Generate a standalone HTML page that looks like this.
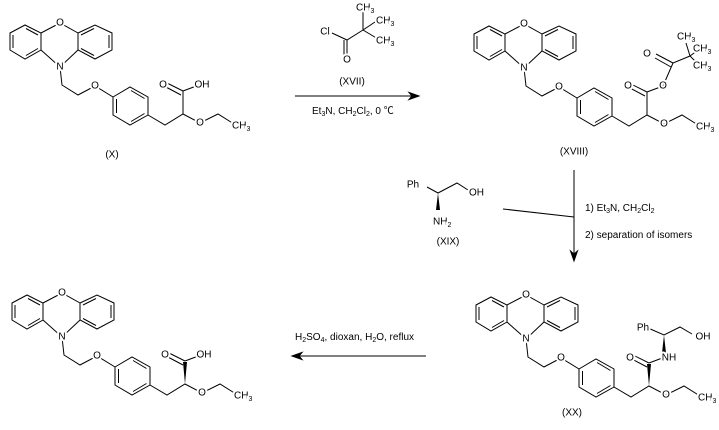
<!DOCTYPE html>
<html><head><meta charset="utf-8"><style>
html,body{margin:0;padding:0;background:#fff;}
svg{display:block;}
text{font-family:"Liberation Sans","Noto Sans CJK SC",sans-serif;font-size:10px;fill:#000;}
.t{paint-order:stroke;stroke:#fff;stroke-width:4px;stroke-linejoin:round;text-anchor:middle;dominant-baseline:central;}
.l{text-anchor:start;}
line,polyline,polygon{stroke:#000;stroke-width:1;fill:none;}
</style></head><body>
<svg width="719" height="430" viewBox="0 0 719 430" xmlns="http://www.w3.org/2000/svg">
<defs>
<g id="core">
<polygon points="10,33 25,25 41,33 41,50 25,59 10,50"/>
<line x1="13" y1="35" x2="13" y2="48"/>
<line x1="26" y1="28.5" x2="38" y2="35"/>
<line x1="26" y1="55.5" x2="38" y2="48.5"/>
<polyline points="41,33 60,23 78,33"/>
<polyline points="41,50 60,67 78,50"/>
<polygon points="78,33 95,25 112,33 112,50 95,59 78,50"/>
<line x1="109" y1="35" x2="109" y2="48"/>
<line x1="94" y1="28.5" x2="81" y2="35"/>
<line x1="94" y1="55.5" x2="81" y2="48.5"/>
<polyline points="60,67 62,85 78,95 95,86 113,97"/>
<polygon points="113,97 130,87 148,97 148,115 130,125 113,115"/>
<line x1="116.5" y1="99" x2="116.5" y2="113"/>
<line x1="131" y1="90.5" x2="144.5" y2="98.5"/>
<line x1="131" y1="121.5" x2="144.5" y2="113.5"/>
<polyline points="148,115 165,125 183,114 200,123 218,114 234,124"/>
</g>
<g id="coc">
<line x1="183" y1="91" x2="165" y2="82"/>
<line x1="181" y1="95" x2="164" y2="86"/>
<line x1="183" y1="91" x2="199" y2="85"/>
</g>
</defs>

<!-- (X) -->
<g>
<use href="#core"/>
<line x1="183" y1="114" x2="183" y2="91"/>
<use href="#coc"/>
<text class="t" x="60" y="23">O</text>
<text class="t" x="60" y="67">N</text>
<text class="t" x="95" y="86">O</text>
<text class="t" x="200" y="123">O</text>
<text class="t" x="163" y="85">O</text>
<text class="t" x="202" y="85">OH</text>
<text class="t l" x="232" y="126">CH<tspan font-size="7" dy="3">3</tspan></text>
<text class="t" x="112" y="155">(X)</text>
</g>

<!-- (XVII) reagent -->
<g>
<polyline points="332,33 347,40 363,30"/>
<line x1="347" y1="40" x2="347" y2="58"/>
<line x1="344" y1="40" x2="344" y2="56"/>
<line x1="363" y1="30" x2="363" y2="12"/>
<line x1="363" y1="30" x2="378" y2="20"/>
<line x1="363" y1="30" x2="378" y2="39"/>
<text class="t" x="325" y="32">Cl</text>
<text class="t" x="347" y="60">O</text>
<text class="t l" x="356" y="8">CH<tspan font-size="7" dy="3">3</tspan></text>
<text class="t l" x="376" y="21">CH<tspan font-size="7" dy="3">3</tspan></text>
<text class="t l" x="376" y="41">CH<tspan font-size="7" dy="3">3</tspan></text>
<text class="t" x="352" y="82">(XVII)</text>
<line x1="295" y1="96" x2="414" y2="96"/>
<polygon points="419,96 409,92.5 412,96 409,99.5" style="fill:#000"/>
<text x="312" y="114">Et<tspan font-size="7" dy="2">3</tspan><tspan dy="-2">N, CH</tspan><tspan font-size="7" dy="2">2</tspan><tspan dy="-2">Cl</tspan><tspan font-size="7" dy="2">2</tspan><tspan dy="-2">, 0 ℃</tspan></text>
</g>

<!-- (XVIII) -->
<g transform="translate(464,1)">
<use href="#core"/>
<line x1="183" y1="114" x2="183" y2="91"/>
<use href="#coc"/>
<polyline points="199,85 209,62 226,55"/>
<line x1="209" y1="62" x2="192" y2="53"/>
<line x1="207" y1="66" x2="191" y2="57"/>
<line x1="226" y1="55" x2="222" y2="42"/>
<line x1="226" y1="55" x2="234" y2="49"/>
<line x1="226" y1="55" x2="234" y2="63"/>
<text class="t" x="60" y="23">O</text>
<text class="t" x="60" y="67">N</text>
<text class="t" x="95" y="86">O</text>
<text class="t" x="200" y="123">O</text>
<text class="t" x="164" y="85">O</text>
<text class="t" x="199" y="85">O</text>
<text class="t" x="183" y="53">O</text>
<text class="t l" x="213" y="36">CH<tspan font-size="7" dy="3">3</tspan></text>
<text class="t l" x="229" y="48">CH<tspan font-size="7" dy="3">3</tspan></text>
<text class="t l" x="229" y="65">CH<tspan font-size="7" dy="3">3</tspan></text>
<text class="t l" x="232" y="126">CH<tspan font-size="7" dy="3">3</tspan></text>
<text class="t" x="110" y="151">(XVIII)</text>
</g>

<!-- vertical arrow with XIX -->
<g>
<line x1="574" y1="170" x2="574" y2="255"/>
<polygon points="574,261 570.5,251 574,254 577.5,251" style="fill:#000"/>
<line x1="503" y1="209" x2="574" y2="217"/>
<text x="585" y="211">1) Et<tspan font-size="7" dy="2">3</tspan><tspan dy="-2">N, CH</tspan><tspan font-size="7" dy="2">2</tspan><tspan dy="-2">Cl</tspan><tspan font-size="7" dy="2">2</tspan></text>
<text x="585" y="238">2) separation of isomers</text>
<polyline points="427,187 438,193 457,183 468,190"/>
<polygon points="438,193 436,210 440,210" style="fill:#000;stroke:none"/>
<text class="t" x="413" y="185">Ph</text>
<text class="t l" x="469" y="193">OH</text>
<text class="t l" x="433" y="222">NH<tspan font-size="7" dy="3">2</tspan></text>
<text class="t" x="448" y="242">(XIX)</text>
</g>

<!-- (XX) -->
<g transform="translate(466,272)">
<use href="#core"/>
<polygon points="183,114 181,92 185,92" style="fill:#000;stroke:none"/>
<use href="#coc"/>
<polyline points="182,56 198,63 214,55 226,62"/>
<polygon points="198,63 196,81 200,81" style="fill:#000;stroke:none"/>
<text class="t" x="60" y="23">O</text>
<text class="t" x="60" y="67">N</text>
<text class="t" x="95" y="86">O</text>
<text class="t" x="200" y="123">O</text>
<text class="t" x="164" y="86">O</text>
<text class="t" x="203" y="86">NH</text>
<text class="t" x="177" y="56">Ph</text>
<text class="t" x="237" y="65">OH</text>
<text class="t l" x="232" y="126">CH<tspan font-size="7" dy="3">3</tspan></text>
<text class="t" x="106" y="141">(XX)</text>
</g>

<!-- bottom arrow -->
<g>
<line x1="298" y1="356" x2="426" y2="356"/>
<polygon points="292,356 302,352.5 299,356 302,359.5" style="fill:#000"/>
<text x="295" y="340">H<tspan font-size="7" dy="2">2</tspan><tspan dy="-2">SO</tspan><tspan font-size="7" dy="2">4</tspan><tspan dy="-2">, dioxan, H</tspan><tspan font-size="7" dy="2">2</tspan><tspan dy="-2">O, reflux</tspan></text>
</g>

<!-- final product -->
<g transform="translate(2,270)">
<use href="#core"/>
<polygon points="183,114 181,92 185,92" style="fill:#000;stroke:none"/>
<use href="#coc"/>
<text class="t" x="60" y="23">O</text>
<text class="t" x="60" y="67">N</text>
<text class="t" x="95" y="86">O</text>
<text class="t" x="200" y="123">O</text>
<text class="t" x="163" y="85">O</text>
<text class="t" x="202" y="85">OH</text>
<text class="t l" x="232" y="126">CH<tspan font-size="7" dy="3">3</tspan></text>
</g>
</svg>
</body></html>
